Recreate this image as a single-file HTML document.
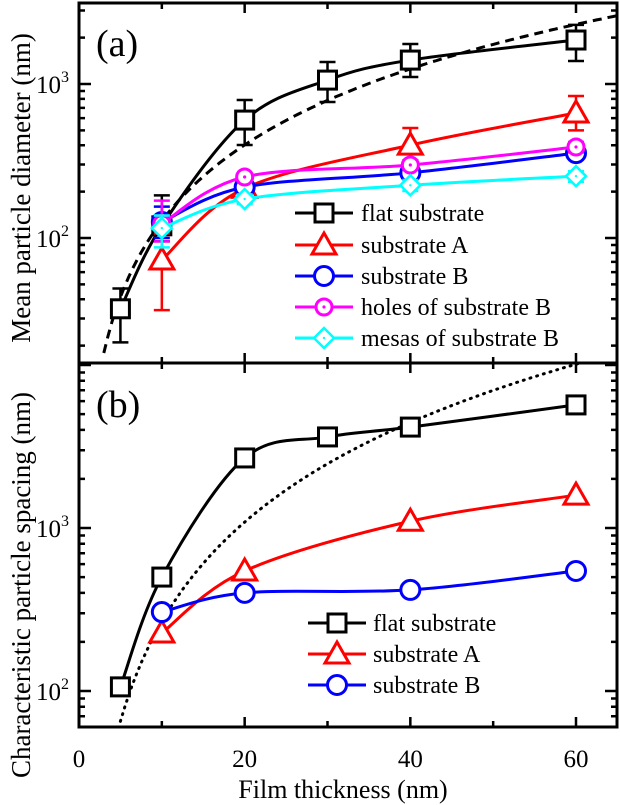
<!DOCTYPE html>
<html><head><meta charset="utf-8"><style>
html,body{margin:0;padding:0;background:#fff;}
svg{display:block;}
svg text{font-family:"Liberation Serif","DejaVu Serif","Times New Roman",serif;}
</style></head><body>
<svg id="chart" width="620" height="805" viewBox="0 0 620 805" xmlns="http://www.w3.org/2000/svg" font-family="Liberation Serif, DejaVu Serif, serif"></svg>
<script>
// x categories
const thickA = [5, 10, 20, 30, 40, 60];
const thickB = [10, 20, 40, 60];
// panel (a) mean particle diameter (nm)
const flatA = [34.7, 120, 583, 1060, 1430, 1930];
const flatAErrHi = [47, 189, 787, 1390, 1820, 2420];
const flatAErrLo = [21, 95, 402, 764, 1110, 1410];
const subA_A = [72, 210, 401, 648];
const subA_AErrHi = [107, 260, 518, 836];
const subA_AErrLo = [34, 170, 320, 500];
const subB_A = [127, 214, 265, 356];
const subB_AErrHi = [160, 235, 285, 380];
const subB_AErrLo = [100, 195, 245, 330];
const holes_A = [124, 249, 298, 390];
const holes_AErrHi = [175, 262, 315, 420];
const holes_AErrLo = [95, 235, 280, 360];
const mesas_A = [116, 179, 220, 252];
const mesas_AErrHi = [140, 192, 238, 272];
const mesas_AErrLo = [87, 166, 202, 232];
// panel (b) characteristic particle spacing (nm)
const flatB = [106, 500, 2690, 3620, 4160, 5690];
const subA_B = [227, 545, 1100, 1590];
const subB_B = [305, 400, 417, 545];
const xTicks = [0, 20, 40, 60];
const legendA = ["flat substrate", "substrate A", "substrate B", "holes of substrate B", "mesas of substrate B"];
const legendB = ["flat substrate", "substrate A", "substrate B"];

const svg = document.getElementById('chart');
const NS = 'http://www.w3.org/2000/svg';
const FF = '"Liberation Serif","DejaVu Serif",serif';
function mk(tag, attrs, parent) {
  const e = document.createElementNS(NS, tag);
  for (const k in attrs) e.setAttribute(k, attrs[k]);
  (parent || svg).appendChild(e);
  return e;
}
const X0 = 79, XR = 617;
const xs = t => X0 + t * (576 - X0) / 60;
const yA = v => 84 - (Math.log10(v) - 3) * 154;
const yB = v => 528 - (Math.log10(v) - 3) * 163;
const TOP = 3, MID = 363, BOT = 727;

function smooth(pts) {
  let d = 'M' + pts[0][0] + ',' + pts[0][1];
  for (let i = 0; i < pts.length - 1; i++) {
    const p0 = pts[i - 1] || pts[i], p1 = pts[i], p2 = pts[i + 1], p3 = pts[i + 2] || p2;
    const c1 = [p1[0] + (p2[0] - p0[0]) / 6, p1[1] + (p2[1] - p0[1]) / 6];
    const c2 = [p2[0] - (p3[0] - p1[0]) / 6, p2[1] - (p3[1] - p1[1]) / 6];
    d += ' C' + c1 + ' ' + c2 + ' ' + p2;
  }
  return d;
}
function marker(type, cx, cy, color, g) {
  if (type === 'sq') return mk('rect', {x: cx - 9, y: cy - 9, width: 18, height: 18, fill: '#fff', stroke: color, 'stroke-width': 3}, g);
  if (type === 'tri') return mk('polygon', {points: `${cx},${cy - 12} ${cx - 12},${cy + 9} ${cx + 12},${cy + 9}`, fill: '#fff', stroke: color, 'stroke-width': 3}, g);
  if (type === 'circ') return mk('circle', {cx, cy, r: 9.5, fill: '#fff', stroke: color, 'stroke-width': 3}, g);
  if (type === 'dotc') { mk('circle', {cx, cy, r: 8, fill: '#fff', stroke: color, 'stroke-width': 3}, g); return mk('circle', {cx, cy, r: 1.6, fill: color}, g); }
  if (type === 'dia') { mk('polygon', {points: `${cx},${cy - 10} ${cx + 10},${cy} ${cx},${cy + 10} ${cx - 10},${cy}`, fill: '#fff', stroke: color, 'stroke-width': 2.5}, g); return mk('circle', {cx, cy, r: 1.2, fill: color}, g); }
}
function series(name, xsArr, vals, ys, color, type, hi, lo) {
  const g = mk('g', {});
  
  
  const pts = xsArr.map((t, i) => [xs(t), ys(vals[i])]);
  mk('path', {d: smooth(pts), fill: 'none', stroke: color, 'stroke-width': 3}, g);
  if (hi) xsArr.forEach((t, i) => {
    const x = xs(t);
    mk('path', {d: `M${x},${ys(hi[i])}V${ys(lo[i])}M${x - 8},${ys(hi[i])}H${x + 8}M${x - 8},${ys(lo[i])}H${x + 8}`, stroke: color, 'stroke-width': 2.5, fill: 'none'}, g);
  });
  pts.forEach(p => {
    const m = marker(type, p[0], p[1], color, g);
    
    
  });
}
function fit(name, a, n, t0, t1, ys, dash, clipTop, clipBot) {
  const pts = [];
  for (let t = t0; t <= t1 + 1e-9; t += 0.5) {
    const y = ys(a * Math.pow(t, n));
    if (y < clipTop || y > clipBot) continue;
    pts.push(xs(t).toFixed(1) + ',' + y.toFixed(1));
  }
  const p = mk('polyline', {points: pts.join(' '), fill: 'none', stroke: '#000', 'stroke-width': 3, 'stroke-dasharray': dash, 'stroke-linecap': dash === '1,6' ? 'round' : 'butt'});
  
  
}
fit('fit-curve-a', 16 / Math.pow(2.8, 1.64), 1.64, 2.5, 65, yA, '9,6', TOP, MID);
fit('fit-curve-b', 60 / Math.pow(4.8, 2.03), 2.03, 4.5, 65, yB, '1,6', MID, BOT);

series('flat-substrate-a', thickA, flatA, yA, '#000', 'sq', flatAErrHi, flatAErrLo);
series('substrate-a-a', thickB, subA_A, yA, '#ff0000', 'tri', subA_AErrHi, subA_AErrLo);
series('substrate-b-a', thickB, subB_A, yA, '#0000ff', 'circ', subB_AErrHi, subB_AErrLo);
series('holes-substrate-b', thickB, holes_A, yA, '#ff00ff', 'dotc', holes_AErrHi, holes_AErrLo);
series('mesas-substrate-b', thickB, mesas_A, yA, '#00ffff', 'dia', mesas_AErrHi, mesas_AErrLo);
series('flat-substrate-b', thickA, flatB, yB, '#000', 'sq');
series('substrate-a-b', thickB, subA_B, yB, '#ff0000', 'tri');
series('substrate-b-b', thickB, subB_B, yB, '#0000ff', 'circ');

const fa = mk('rect', {x: X0, y: TOP, width: XR - X0, height: MID - TOP, fill: 'none', stroke: '#000', 'stroke-width': 3});
 
const fb = mk('rect', {x: X0, y: MID, width: XR - X0, height: BOT - MID, fill: 'none', stroke: '#000', 'stroke-width': 3});
 

let td = '';
for (let t = 0; t <= 65; t += 10) {
  const x = xs(t), L = (t % 20 === 0) ? 10 : 6;
  td += `M${x},${BOT}V${BOT - L}M${x},${MID}V${MID - L}M${x},${MID}V${MID + L}M${x},${TOP}V${TOP + L}`;
}
function yticks(ys, top, bot) {
  for (let e = 1; e <= 4; e++) for (let m = 1; m <= 9; m++) {
    const y = ys(m * Math.pow(10, e));
    if (y < top + 1 || y > bot - 1) continue;
    const L = m === 1 ? 12 : 6;
    td += `M${X0},${y}H${X0 + L}M${XR},${y}H${XR - L}`;
  }
}
yticks(yA, TOP, MID); yticks(yB, MID, BOT);
const tk = mk('path', {d: td, stroke: '#000', 'stroke-width': 2.5, fill: 'none'});
 

function txt(s, x, y, size, name, anchor, extra) {
  const t = mk('text', Object.assign({x, y, 'font-size': size, 'text-anchor': anchor || 'start', fill: '#000', 'font-family': FF}, extra || {}));
  t.textContent = s;
  
  
  return t;
}
xTicks.forEach(t => txt(String(t), xs(t), 767, 25, 'x-tick-label', 'middle'));
function ylabel(y, exp, name) {
  const t = mk('text', {x: 36, y: y + 9, 'font-size': 25, fill: '#000', 'font-family': FF});
  
  
  const a = mk('tspan', {}, t); a.textContent = '10';
  const b = mk('tspan', {dy: -11, 'font-size': 16}, t); b.textContent = exp;
}
ylabel(yA(1000), '3', 'y-tick-label-a');
ylabel(yA(100), '2', 'y-tick-label-a');
ylabel(yB(1000), '3', 'y-tick-label-b');
ylabel(yB(100), '2', 'y-tick-label-b');
txt('Film thickness (nm)', 343, 798, 26, 'x-axis-title', 'middle');
txt('Mean particle diameter (nm)', 0, 0, 27, 'y-axis-title-a', 'middle', {transform: 'translate(30,188) rotate(-90)'});
txt('Characteristic particle spacing (nm)', 0, 0, 27, 'y-axis-title-b', 'middle', {transform: 'translate(30,585) rotate(-90)'});
txt('(a)', 96, 56, 38, 'panel-label-a');
txt('(b)', 96, 417, 38, 'panel-label-b');

const colA = ['#000', '#ff0000', '#0000ff', '#ff00ff', '#00ffff'];
const typA = ['sq', 'tri', 'circ', 'dotc', 'dia'];
const rowsA = [213, 245, 276, 307, 338];
legendA.forEach((s, i) => {
  const g = mk('g', {});
  
  
  mk('line', {x1: 295, x2: 353, y1: rowsA[i], y2: rowsA[i], stroke: colA[i], 'stroke-width': 3}, g);
  marker(typA[i], 324, rowsA[i], colA[i], g);
  const t = mk('text', {x: 361, y: rowsA[i] + 8, 'font-size': 24, fill: '#000', 'font-family': FF}, g); t.textContent = s;
});
const rowsB = [623, 654, 685];
legendB.forEach((s, i) => {
  const g = mk('g', {});
  
  
  mk('line', {x1: 308, x2: 366, y1: rowsB[i], y2: rowsB[i], stroke: colA[i], 'stroke-width': 3}, g);
  marker(typA[i], 337, rowsB[i], colA[i], g);
  const t = mk('text', {x: 373, y: rowsB[i] + 8, 'font-size': 24, fill: '#000', 'font-family': FF}, g); t.textContent = s;
});
</script>
</body></html>
